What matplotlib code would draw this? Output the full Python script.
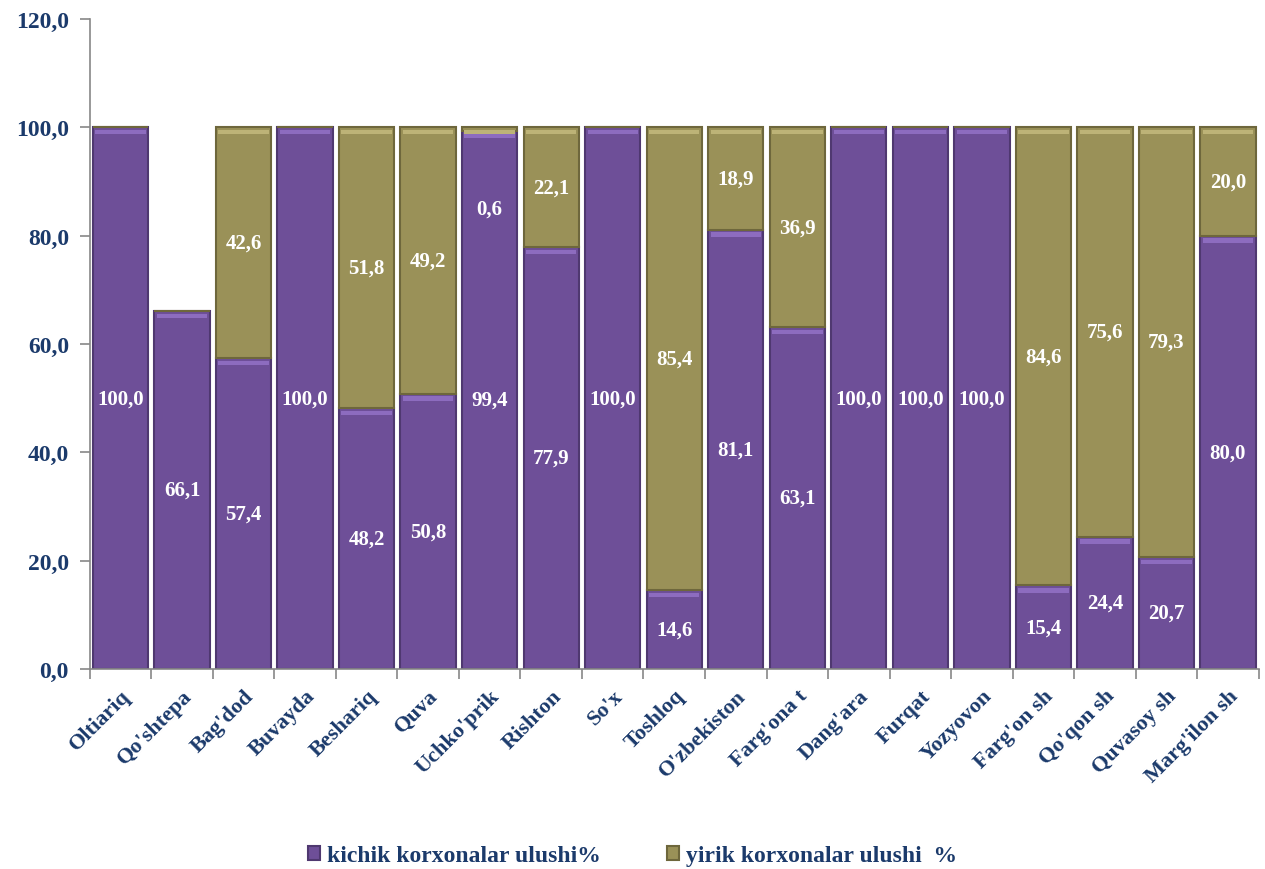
import matplotlib
matplotlib.use('Agg')
import matplotlib.pyplot as plt
import numpy as np

plt.rcParams['font.family'] = ['Liberation Serif']
plt.rcParams['font.weight'] = 'bold'

regions = ["Oltiariq", "Qo'shtepa", "Bag'dod", "Buvayda", "Beshariq", "Quva",
           "Uchko'prik", "Rishton", "So'x", "Toshloq", "O'zbekiston", "Farg'ona t",
           "Dang'ara", "Furqat", "Yozyovon", "Farg'on sh", "Qo'qon sh",
           "Quvasoy sh", "Marg'ilon sh"]
kichik = [100.0, 66.1, 57.4, 100.0, 48.2, 50.8, 99.4, 77.9, 100.0, 14.6,
          81.1, 63.1, 100.0, 100.0, 100.0, 15.4, 24.4, 20.7, 80.0]
yirik = [0.0, 0.0, 42.6, 0.0, 51.8, 49.2, 0.6, 22.1, 0.0, 85.4,
         18.9, 36.9, 0.0, 0.0, 0.0, 84.6, 75.6, 79.3, 20.0]
legend_names = ["kichik korxonalar ulushi%", "yirik korxonalar ulushi  %"]

purple = '#6e4f98'
olive = '#9a9158'
navy = '#1b3a6b'

fig = plt.figure(figsize=(12.65, 8.7), dpi=100)
ax = fig.add_axes([0.071, 0.23, 0.924, 0.747])

x = np.arange(len(regions))
k = np.array(kichik)
y = np.array(yirik)

b1 = ax.bar(x, k, width=0.9, color=purple, edgecolor='#4f3870', linewidth=1.5,
            label=legend_names[0])
b2 = ax.bar(x, y, width=0.9, bottom=k, color=olive, edgecolor='#6e673c',
            linewidth=1.5, label=legend_names[1])

# soft bevel on top of each segment
for i in range(len(regions)):
    if k[i] > 0:
        ax.bar(x[i], 0.8, width=0.82, bottom=k[i] - 1.3, color='#8d6cbf',
               linewidth=0)
    if y[i] > 0:
        ax.bar(x[i], 0.8, width=0.82, bottom=k[i] + y[i] - 1.3, color='#bdb377',
               linewidth=0)

def fmt(v):
    return ('%.1f' % v).replace('.', ',')

for i in range(len(regions)):
    if k[i] > 0:
        ax.text(x[i], k[i] / 2, fmt(k[i]), ha='center', va='center', color='white',
                fontsize=15, fontweight='bold')
    if y[i] > 0:
        if y[i] < 5:
            ty = k[i] + y[i] - 15
        else:
            ty = k[i] + y[i] / 2
        ax.text(x[i], ty, fmt(y[i]), ha='center', va='center', color='white',
                fontsize=15, fontweight='bold')

ax.set_xlim(-0.5, len(regions) - 0.5)
ax.set_ylim(0, 120)
ax.set_yticks(np.arange(0, 121, 20))
ax.set_yticklabels([fmt(v) for v in np.arange(0, 121, 20)], color=navy,
                   fontsize=17, fontweight='bold')
ax.set_xticks(x)
ax.set_xticklabels(regions, rotation=45, ha='right', rotation_mode='anchor',
                   color=navy, fontsize=16, fontweight='bold')
ax.tick_params(axis='x', which='major', length=0, pad=12)
ax.set_xticks(np.arange(-0.5, len(regions), 1), minor=True)
ax.tick_params(axis='x', which='minor', length=7, color='#888888', width=1.2)
ax.tick_params(axis='y', length=7, color='#888888', width=1.2, pad=8)

for s in ['top', 'right']:
    ax.spines[s].set_visible(False)
ax.spines['left'].set_color('#888888')
ax.spines['bottom'].set_color('#888888')
ax.spines['left'].set_linewidth(1.2)
ax.spines['bottom'].set_linewidth(1.2)

leg = fig.legend(handles=[b1, b2], loc='center', bbox_to_anchor=(0.5, 0.015),
                 ncol=2, frameon=False, handlelength=0.5, handleheight=0.5,
                 columnspacing=2.8, handletextpad=0.3, fontsize=17)
for t in leg.get_texts():
    t.set_color(navy)

fig.savefig('out.png', dpi=100)
